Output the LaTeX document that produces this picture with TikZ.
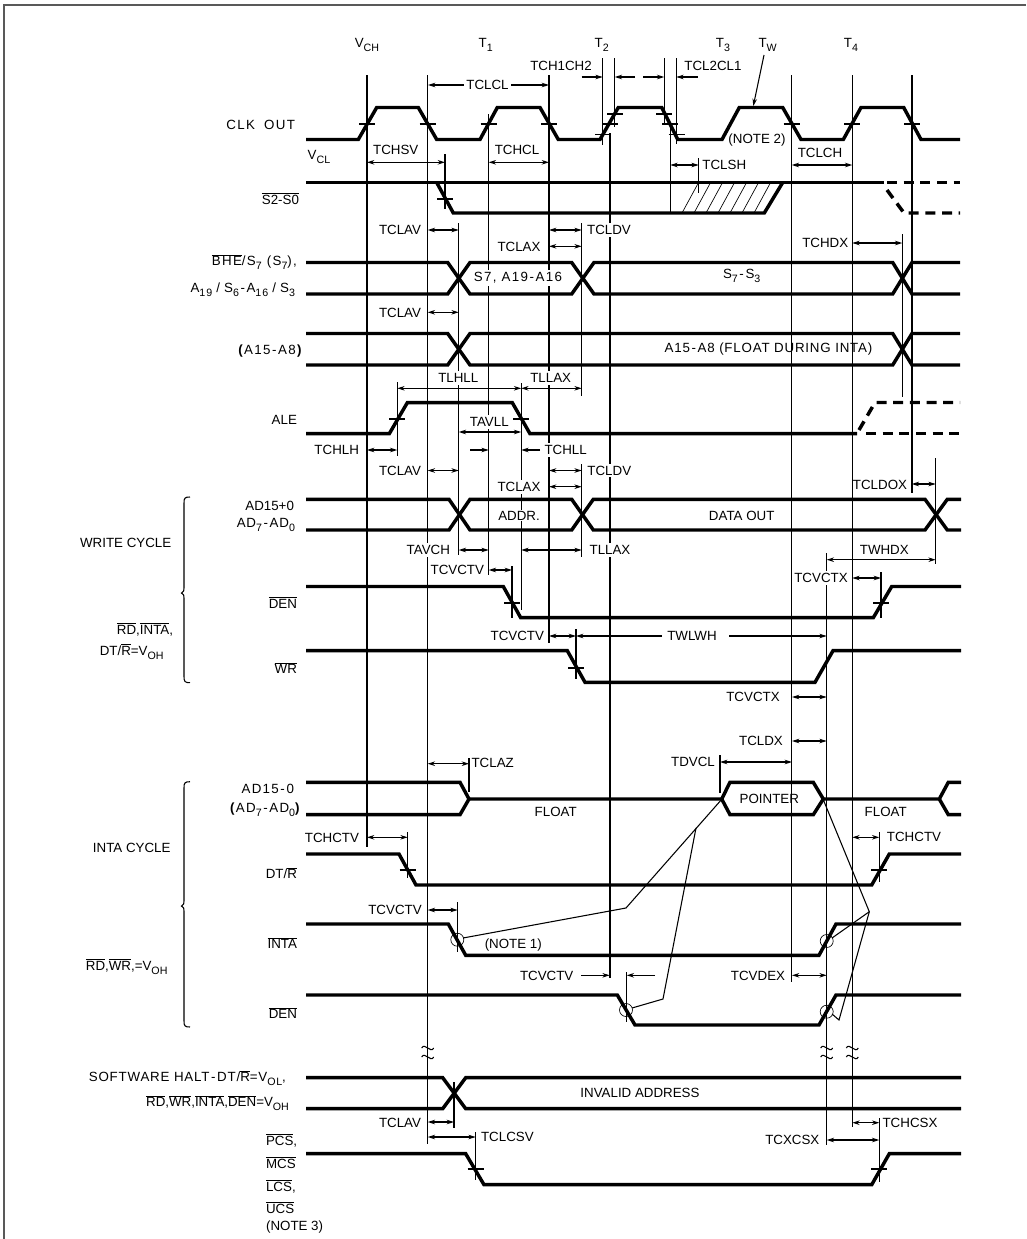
\documentclass[tikz,border=0pt]{standalone}
\usepackage{amsmath}
\usepackage{fontspec}
\setmainfont{Liberation Sans}
\usetikzlibrary{arrows.meta}
\newcommand{\ovl}[1]{$\overline{\text{#1}}$}
\newcommand{\low}[1]{\raisebox{-3pt}{\footnotesize #1}}
\newcommand{\hy}{\kern1.2pt-\kern1.2pt}
\newcommand{\spd}[2][10]{{\addfontfeature{LetterSpace=#1}#2}}
\tikzset{
  signal/.style={line width=2.6pt},
  guide/.style={line width=0.8pt},
  hatch/.style={line width=0.5pt},
  dashsig/.style={line width=2.6pt,dash pattern=on 7.5pt off 5pt},
  span/.style={guide,{Stealth[length=5.5pt,width=3.4pt]}-{Stealth[length=5.5pt,width=3.4pt]}},
  oneway/.style={guide,-{Stealth[length=5.5pt,width=3.4pt]}},
  lbl/.style={inner sep=0.6pt,font=\fontsize{10}{12}\selectfont},
  lblw/.style={lbl,fill=white,inner sep=1.5pt},
  lft/.style={lbl,anchor=east}
}
\begin{document}
\begin{tikzpicture}[x=0.75pt,y=-0.75pt]
\useasboundingbox (0,0) rectangle (1026,1239);
\draw[line width=1pt,black!65] (4,1239) -- (4,5) -- (1026,5);

% guide lines
\foreach \x/\a/\b in {367/75/847,427.7/75/1144,488.7/114/575,549/75/643,602.7/58/145,614.7/58/127,
  610/133/978,664.3/58/124,676.3/58/144,670.3/124/213,698.7/158/193,791.7/75/982,852.3/75/1127,
  912/75/493,902.3/234/397,935.7/458/564,826.7/553/1145,881/572/618,445/154/209,458.7/223/555,
  581.7/223/396,581.7/464/557,397.3/382/456,521.2/383/610,512/566/618,576/629/679,720/755/793,
  469/758/792,407.7/832/878,879.3/832/882,457.7/902/952,626.7/972/1022,454/1082/1128,
  475.7/1132/1180,879.3/1118/1182}
  \draw[guide] (\x,\a) -- (\x,\b);

% crossing ticks
\foreach \x/\y in {367/124,427.7/124,488.7/124,549/124,603/134.3,610/124,615/114,664.3/114,670.3/124,
  676.5/134.3,791.7/124,852.3/124,912/124,445/199,397.3/419,521.2/419,512/603,881/603,576/668,
  407.7/870,879.3/870,475.7/1169,879.3/1169}
  \draw[guide] ({\x-8},\y) -- ({\x+8},\y);

% breaks
\foreach \x in {427.7,826.7,852.3}
  \foreach \y in {1048,1057}
    \draw[guide] ({\x-6},\y) .. controls ({\x-3},{\y-6}) and ({\x+3},{\y+6}) .. ({\x+6},\y);

% braces
\foreach \a/\m/\b in {497/593/682.7,781.7/906/1027}
  \draw[guide] (190,\a) .. controls (185,\a) and (184,{\a+1}) .. (184,{\a+6}) -- (184,{\m-5})
    .. controls (184,{\m-2}) .. (181.5,\m) .. controls (184,{\m+2}) .. (184,{\m+5}) -- (184,{\b-6})
    .. controls (184,{\b-1}) and (185,\b) .. (190,\b);

% timing arrows
\foreach \a/\b/\y in {428/549/85,367/445/162.3,488.7/549/162.3,670.3/698.7/165,791.7/852.3/165,
  427.7/458.7/230,549/581.7/230,549/581.7/246.3,852.3/902.3/243,427.7/458.7/312.3,397.3/521.2/388.3,
  521.2/581.7/388.3,458.7/521.2/432,367/397.3/450,427.7/458.7/470.5,549/581.7/470.5,549/581.7/486.7,
  911.7/935.7/484,458.7/488.7/550,521.2/581.7/550,488.7/512/570,826.7/935.7/559.7,852.3/881/578,
  549/576/636,792/826.7/697,792/826.7/741,720/792/762,427.7/469/763.7,367/407.7/837.3,
  852.3/879.3/837.3,427.7/457.7/910,792/826.7/975.3,427.7/454/1122,427.7/475.7/1137,
  852.3/879.3/1122.7,826.7/879.3/1140}
  \draw[span] (\a,\y) -- (\b,\y);
\foreach \a/\b/\y in {581.7/602.7/77,635/614.7/77,643/664.3/77,697.7/676.3/77,470/488.7/450,540/521.2/450,
  662/576/636,729/826.7/636,581/609.7/975.3,655/626.7/975.3}
  \draw[oneway] (\a,\y) -- (\b,\y);
\draw[oneway] (764,55) -- (753.3,106);

% hatching
\foreach \x in {682,694,706,718,730,742,754}
  \draw[hatch] (\x,213) -- ({\x+16.3},183);

% response lines
\draw[guide] (463,938) -- (626,908) -- (722,799);
\draw[guide] (632,1008) -- (663,999) -- (696,828);
\draw[guide] (823,799) -- (869.3,911.7) -- (832,938);
\draw[guide] (869.3,911.7) -- (839,1020) -- (832,1014);
\foreach \x/\y in {457.3/939.7,826.7/941,626/1010,826.7/1011.7}
  \draw[hatch] (\x,\y) circle (6.5);

% CLK OUT
\draw[signal] (306,139.5) -- (358.3,139.5) -- (376.7,107.5) -- (418.3,107.5) -- (436.7,139.5) -- (480,139.5)
  -- (497.3,107.5) -- (540,107.5) -- (558.3,139.5) -- (600,139.5) -- (618.3,107.5) -- (661.7,107.5)
  -- (677.7,139.5) -- (722,139.5) -- (739.3,107.5) -- (782.7,107.5) -- (801,139.5) -- (843.3,139.5)
  -- (861,107.5) -- (903.7,107.5) -- (921,139.5) -- (960,139.5);
% S2-S0
\draw[signal] (306,182.5) -- (884,182.5);
\draw[signal] (436.7,182.5) -- (453.3,213) -- (764.3,213) -- (782.7,182.5);
\draw[dashsig] (887,182.5) -- (960,182.5);
\draw[dashsig] (887,190) -- (904,213) -- (960,213);
% BHE
\draw[signal] (306,262.5) -- (447.7,262.5) -- (470,294) -- (571.7,294) -- (594,262.5) -- (892.7,262.5) -- (912,294) -- (960,294);
\draw[signal] (306,294) -- (447.7,294) -- (470,262.5) -- (571.7,262.5) -- (594,294) -- (892.7,294) -- (912,262.5) -- (960,262.5);
% A15-A8
\draw[signal] (306,333.5) -- (447.7,333.5) -- (470,365) -- (892.7,365) -- (912,333.5) -- (960,333.5);
\draw[signal] (306,365) -- (447.7,365) -- (470,333.5) -- (892.7,333.5) -- (912,365) -- (960,365);
% ALE
\draw[signal] (306,433.7) -- (389.3,433.7) -- (407.3,402.7) -- (512.3,402.7) -- (530,433.7) -- (857,433.7);
\draw[dashsig] (859,430) -- (875,402.5) -- (960,402.5);
\draw[dashsig] (866,433.7) -- (960,433.7);
% AD15+0
\draw[signal] (306,499.3) -- (449,499.3) -- (470,530) -- (571.7,530) -- (593.3,499.3) -- (925,499.3) -- (947.3,530) -- (961,530);
\draw[signal] (306,530) -- (449,530) -- (470,499.3) -- (571.7,499.3) -- (593.3,530) -- (925,530) -- (947.3,499.3) -- (961,499.3);
% DEN, WR
\draw[signal] (306,586.5) -- (503.3,586.5) -- (520.7,617.7) -- (873.3,617.7) -- (891.7,586.5) -- (961,586.5);
\draw[signal] (306,650.7) -- (567.3,650.7) -- (585,682.3) -- (815,682.3) -- (833,650.7) -- (961,650.7);
% INTA cycle
\draw[signal] (306,782.3) -- (460,782.3) -- (469,799) -- (721.7,799) -- (730,782.3) -- (813.3,782.3) -- (823.3,799) -- (939.3,799) -- (948.3,782.3) -- (961,782.3);
\draw[signal] (306,814.7) -- (460,814.7) -- (469,799);
\draw[signal] (721.7,799) -- (730,814.7) -- (813.3,814.7) -- (823.3,799);
\draw[signal] (939.3,799) -- (948.3,814.7) -- (961,814.7);
\draw[signal] (306,854) -- (399,854) -- (416,885) -- (871.7,885) -- (889.3,854) -- (961,854);
\draw[signal] (306,924) -- (448.3,924) -- (465.7,955.3) -- (819,955.3) -- (836,924) -- (961,924);
\draw[signal] (306,995) -- (617.3,995) -- (635,1025) -- (819,1025) -- (836,995) -- (961,995);
% halt, chip selects
\draw[signal] (306,1077.7) -- (442.7,1077.7) -- (465.7,1108.7) -- (961,1108.7);
\draw[signal] (306,1108.7) -- (442.7,1108.7) -- (465.7,1077.7) -- (961,1077.7);
\draw[signal] (306,1153.7) -- (465.7,1153.7) -- (484,1184.7) -- (871.7,1184.7) -- (889.3,1153.7) -- (961,1153.7);

% top row
\node[lbl] (vch) at (367,45) {V\low{CH}};
\node[lbl] (t1) at (485.7,45) {T\low{1}};
\node[lbl] (t2) at (601.7,45) {T\low{2}};
\node[lbl] (t3) at (723,45) {T\low{3}};
\node[lbl] (tw) at (767.7,45) {T\low{W}};
\node[lbl] (t4) at (851,45) {T\low{4}};
\node[lbl] (vcl) at (319,157) {V\low{CL}};
\node[lbl] (note2) at (757,140) {(NOTE 2)};

% timing labels
\node[lblw] (tclcl) at (487.5,85) {TCLCL};
\node[lbl] (tch1ch2) at (561,66) {TCH1CH2};
\node[lbl] (tcl2cl1) at (713,66) {TCL2CL1};
\node[lbl] (tchsv) at (395.7,150) {TCHSV};
\node[lbl] (tchcl) at (517,150) {TCHCL};
\node[lbl] (tclsh) at (724.3,165) {TCLSH};
\node[lbl] (tclch) at (820,153) {TCLCH};
\node[lbl] (tclava) at (400,230) {TCLAV};
\node[lblw] (tcldva) at (609,230) {TCLDV};
\node[lbl] (tclaxa) at (519,246.7) {TCLAX};
\node[lbl] (tchdx) at (825.3,243) {TCHDX};
\node[lbl] (tclavb) at (400,312.7) {TCLAV};
\node[lblw] (tlhll) at (458.3,378) {TLHLL};
\node[lblw] (tllaxa) at (550.7,378) {TLLAX};
\node[lblw] (tavll) at (489.3,422) {TAVLL};
\node[lbl] (tchlh) at (336.7,450) {TCHLH};
\node[lblw] (tchll) at (565.7,450) {TCHLL};
\node[lbl] (tclavc) at (400,470.7) {TCLAV};
\node[lblw] (tcldvb) at (609.3,470.7) {TCLDV};
\node[lblw] (tclaxb) at (519,487) {TCLAX};
\node[lbl] (tcldox) at (880,484.7) {TCLDOX};
\node[lblw] (tavch) at (428.3,550) {TAVCH};
\node[lblw] (tllaxb) at (610,550) {TLLAX};
\node[lbl] (twhdx) at (884.3,549.7) {TWHDX};
\node[lblw] (tcvctva) at (457.3,570) {TCVCTV};
\node[lblw] (tcvctxa) at (821,578) {TCVCTX};
\node[lbl] (tcvctvb) at (517.3,636) {TCVCTV};
\node[lbl] (twlwh) at (692,636) {TWLWH};
\node[lbl] (tcvctxb) at (753,697) {TCVCTX};
\node[lbl] (tcldx) at (761,740.7) {TCLDX};
\node[lbl] (tdvcl) at (693,762) {TDVCL};
\node[lbl] (tclaz) at (492.7,763) {TCLAZ};
\node[lbl] (tchctva) at (332,838.3) {TCHCTV};
\node[lbl] (tchctvb) at (914,837.3) {TCHCTV};
\node[lbl] (tcvctvc) at (395,910) {TCVCTV};
\node[lbl] (note1) at (513.3,945) {(NOTE 1)};
\node[lbl] (tcvctvd) at (546.7,975.7) {TCVCTV};
\node[lbl] (tcvdex) at (758,975.7) {TCVDEX};
\node[lbl] (tclavd) at (400,1122.7) {TCLAV};
\node[lbl,anchor=west] (tclcsv) at (480,1137) {TCLCSV};
\node[lbl] (tchcsx) at (910,1122.7) {TCHCSX};
\node[lbl] (tcxcsx) at (792.3,1140) {TCXCSX};

% bus labels
\node[lblw] (sahi) at (518,278) {\spd{S7, A19\hy A16}};
\node[lbl] (sseven) at (741.7,276) {\spd{S\low{7}\hy S\low{3}}};
\node[lbl] (afloat) at (768.5,349) {\spd[6]{A15\hy A8 (FLOAT DURING INTA)}};
\node[lblw,inner sep=0.6pt] (addr) at (519,515.7) {ADDR.};
\node[lbl] (dataout) at (741.7,515.7) {DATA OUT};
\node[lbl] (floata) at (555.7,811.7) {FLOAT};
\node[lbl] (pointer) at (769.3,799) {POINTER};
\node[lbl] (floatb) at (885.7,811.7) {FLOAT};
\node[lbl] (invalid) at (640,1093) {INVALID ADDRESS};

% signal names
\node[lft] (clkout) at (296,125) {\spd{CLK\kern3pt\ OUT}};
\node[lft] (stwo) at (300,199) {\ovl{S2-S0}};
\node[lft] (bhe) at (298,262) {\spd{\ovl{BHE}/S\low{7} (S\low{7}),}};
\node[lft] (aninet) at (296,290) {\spd{A\low{19}\kern3pt/\kern3pt S\low{6}\hy A\low{16}\kern3pt/\kern3pt S\low{3}}};
\node[lft] (afifteen) at (304,350.7) {\spd{\textbf{(}A15\hy A8\textbf{)}}};
\node[lft] (ale) at (298,420) {ALE};
\node[lft] (adwr) at (295,506) {AD15+0};
\node[lft] (adlow) at (296,525) {\spd[6]{AD\low{7}\hy AD\low{0}}};
\node[lft] (denw) at (298,602.7) {\ovl{DEN}};
\node[lft] (wr) at (298,668) {\ovl{WR}};
\node[lft] (adin) at (295,789.3) {\spd{AD15\hy 0}};
\node[lft] (adinlow) at (302,810) {\spd{\textbf{(}AD\low{7}\hy AD\low{0}\textbf{)}}};
\node[lft] (dtr) at (298,873) {DT/\ovl{R}};
\node[lft] (inta) at (298,943) {\ovl{INTA}};
\node[lft] (deni) at (298,1013) {\ovl{DEN}};
\node[lft] (halta) at (287,1078) {\spd[6]{SOFTWARE HALT\hy DT/\ovl{R}=V\low{OL},}};
\node[lft] (haltb) at (290,1103) {\ovl{RD},\ovl{WR},\ovl{INTA},\ovl{DEN}=V\low{OH}};
\node[lbl,anchor=west] (pcs) at (265,1140) {\ovl{PCS},};
\node[lbl,anchor=west] (mcs) at (265,1162.7) {\ovl{MCS}};
\node[lbl,anchor=west] (lcs) at (265,1186) {\ovl{LCS},};
\node[lbl,anchor=west] (ucs) at (265,1208) {\ovl{UCS}};
\node[lbl,anchor=west] (note3) at (265,1227) {(NOTE 3)};

% cycle names
\node[lbl] (wcycle) at (125.7,542.7) {WRITE CYCLE};
\node[lbl] (wrd) at (145,629.3) {\ovl{RD},\ovl{INTA},};
\node[lbl] (wdt) at (131.7,651.7) {DT/\ovl{R}=V\low{OH}};
\node[lbl] (icycle) at (131.7,848.3) {INTA CYCLE};
\node[lbl] (ird) at (126.7,966.7) {\ovl{RD},\ovl{WR},=V\low{OH}};
\end{tikzpicture}
\end{document}
